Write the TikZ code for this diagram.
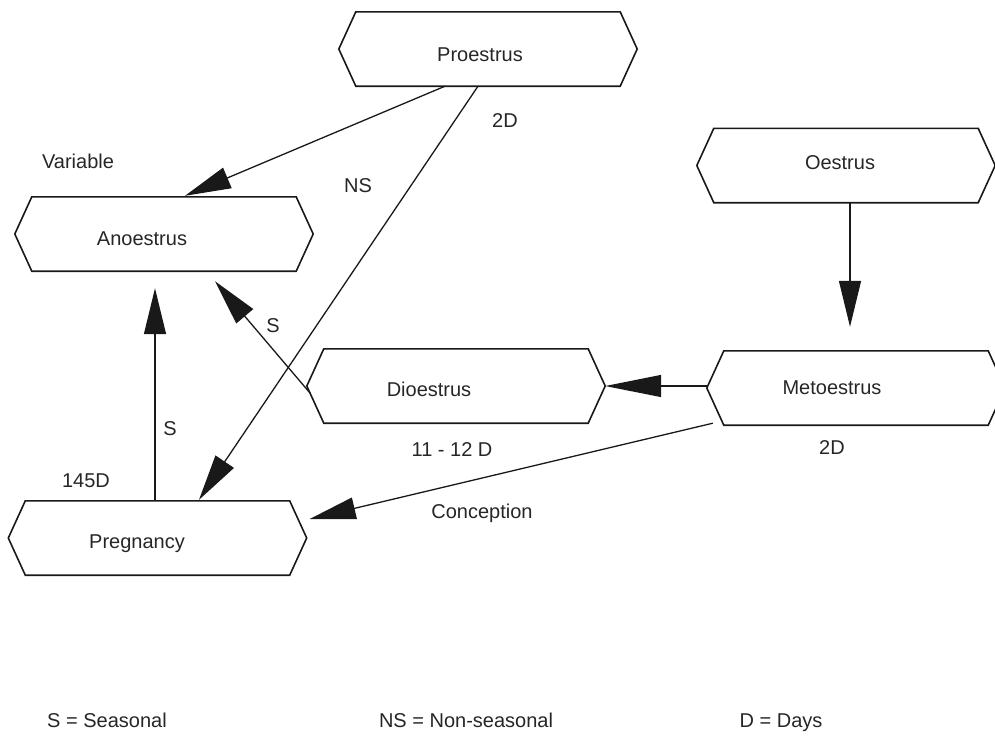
\documentclass[tikz,border=0pt]{standalone}
\usepackage{fontspec}
\setmainfont{Liberation Sans}
\usetikzlibrary{arrows.meta,calc}

\tikzset{
  hexbox/.style={rectangle, draw=none, minimum width=264pt, minimum height=74pt, inner sep=0pt},
  hexline/.style={line width=1.6pt, line join=miter, black!90},
  lbl/.style={anchor=base, inner sep=0pt, font=\fontsize{20}{24}\selectfont, text=black!85},
  arr/.style={line width=1.3pt, black!90, -{Triangle[length=46pt,width=22pt]}},
  longarr/.style={line width=1.3pt, black!90, -{Triangle[length=56pt,width=22pt]}}
}

\begin{document}
\begin{tikzpicture}[x=1pt, y=-1pt]
  \useasboundingbox (0,0) rectangle (995,736);
  \clip (0,0) rectangle (995,736);

  % stage boxes (rectangular cores; pointed ends added below)
  \node[hexbox] (pro)  at (488,49)    {};
  \node[hexbox] (ano)  at (164,234)   {};
  \node[hexbox] (oes)  at (846,165.5) {};
  \node[hexbox] (met)  at (856,388)   {};
  \node[hexbox] (dio)  at (456,386)   {};
  \node[hexbox] (preg) at (157.5,538) {};

  \foreach \n in {pro,ano,oes,met,dio,preg}
    \draw[hexline] (\n.north west) -- (\n.north east) -- ([xshift=17pt]\n.east)
      -- (\n.south east) -- (\n.south west) -- ([xshift=-17pt]\n.west) -- cycle;

  % stage names
  \node[lbl] (protxt)  at (480,61)  {Proestrus};
  \node[lbl] (anotxt)  at (142,245) {Anoestrus};
  \node[lbl] (oestxt)  at (840,169) {Oestrus};
  \node[lbl] (mettxt)  at (832,394) {Metoestrus};
  \node[lbl] (diotxt)  at (429,396) {Dioestrus};
  \node[lbl] (pregtxt) at (137,548) {Pregnancy};

  % transitions
  \draw[arr] ([xshift=-43pt]pro.south) -- ([xshift=21pt,yshift=1pt]ano.north);
  \draw[arr] ([xshift=-10pt]pro.south) -- ([xshift=41.5pt,yshift=1pt]preg.north);
  \draw[arr] ([xshift=-146pt,yshift=-7pt]dio.center) -- ([xshift=51pt,yshift=-10pt]ano.south);
  \draw[arr] ([xshift=-2.5pt]preg.north) -- ([xshift=-9pt,yshift=-17pt]ano.south);
  \draw[longarr] ([xshift=-17pt,yshift=2pt]met.west) -- ([xshift=17pt]dio.east);
  \draw[arr] ([xshift=-11pt,yshift=2pt]met.south west) -- ([xshift=20pt,yshift=19pt]preg.east);
  \draw[arr] ([xshift=4pt]oes.south) -- ([xshift=-6pt,yshift=24pt]met.north);

  % durations and conditions
  \node[lbl] (variable) at (78,168)  {Variable};
  \node[lbl] (ns)       at (358,192) {NS};
  \node[lbl] (twod)     at (505,127) {2D};
  \node[lbl] (sdio)     at (273,332) {S};
  \node[lbl] (spreg)    at (170,435) {S};
  \node[lbl] (days145)  at (86,487)  {145D};
  \node[lbl] (concep)   at (482,518) {Conception};
  \node[lbl] (days1112) at (452,456) {11 - 12 D};
  \node[lbl] (twodmet)  at (832,454) {2D};

  % key
  \node[lbl] (keys)  at (107,727) {S = Seasonal};
  \node[lbl] (keyns) at (466,727) {NS = Non-seasonal};
  \node[lbl] (keyd)  at (781,727) {D = Days};
\end{tikzpicture}
\end{document}
